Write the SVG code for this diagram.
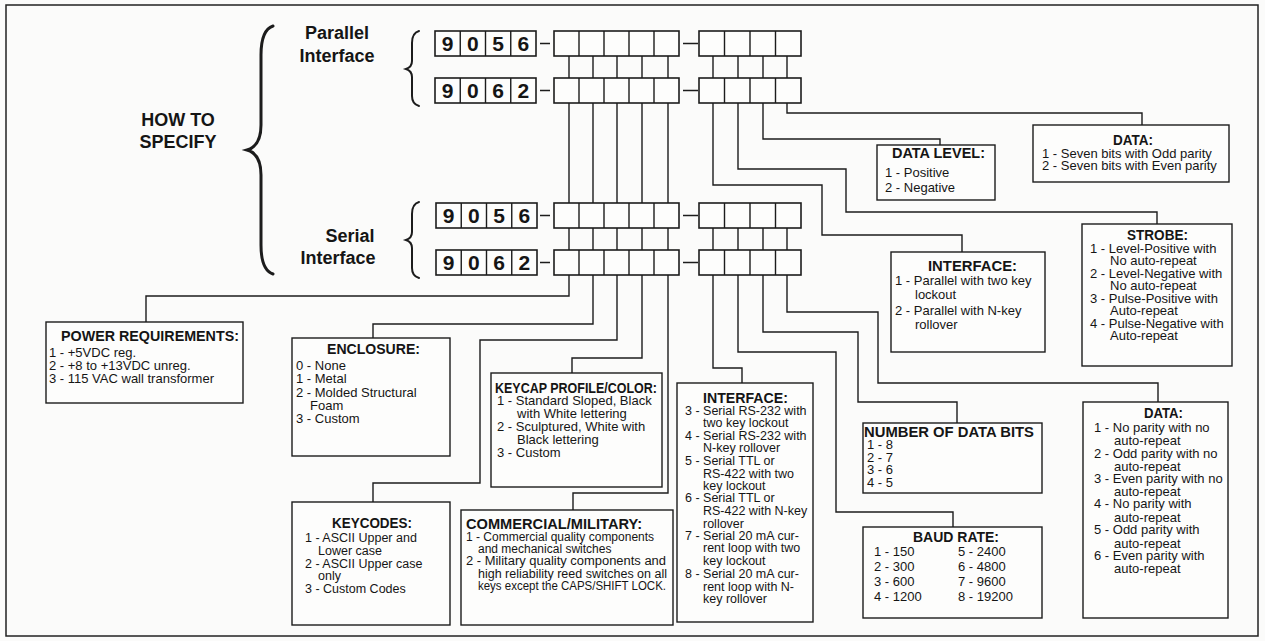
<svg xmlns="http://www.w3.org/2000/svg" width="1265" height="641" viewBox="0 0 1265 641">
<style>
.bg{fill:#fbfbfa}
.frame{fill:none;stroke:#222;stroke-width:1.5}
.box{fill:#fdfdfc;stroke:#1c1c1c;stroke-width:1.4}
.cell{fill:#fdfdfc;stroke:#1c1c1c;stroke-width:1.6}
.ln{fill:none;stroke:#1c1c1c;stroke-width:1.4}
.br{fill:none;stroke:#1c1c1c;stroke-linecap:round}
.big{font-family:"Liberation Sans",Arial,sans-serif;font-weight:bold;font-size:18px;fill:#151515}
.h{font-family:"Liberation Sans",Arial,sans-serif;font-weight:bold;font-size:15px;fill:#151515}
.t{font-family:"Liberation Sans",Arial,sans-serif;font-size:13px;fill:#151515}
.ts{font-family:"Liberation Sans",Arial,sans-serif;font-size:12.5px;fill:#151515}
.tx{font-family:"Liberation Sans",Arial,sans-serif;font-size:12px;fill:#151515}
.dg{font-family:"Liberation Sans",Arial,sans-serif;font-weight:bold;font-size:21px;fill:#151515;text-anchor:middle}
.mid{text-anchor:middle}
</style>
<defs>
<g id="digits">
<rect class="cell" x="0" y="0" width="101" height="25"/>
<path class="ln" d="M25.25 0V25M50.5 0V25M75.75 0V25"/>
</g>
<g id="g5">
<rect class="cell" x="0" y="0" width="125" height="25"/>
<path class="ln" d="M25 0V25M50 0V25M75 0V25M100 0V25"/>
</g>
<g id="g4">
<rect class="cell" x="0" y="0" width="102" height="25"/>
<path class="ln" d="M25.5 0V25M51 0V25M76.5 0V25"/>
</g>
</defs>
<rect class="bg" x="0" y="0" width="1265" height="641"/>
<rect class="frame" x="6" y="5" width="1252" height="631"/>

<g id="title">
<text class="big mid" x="178" y="126">HOW TO</text>
<text class="big mid" x="178" y="148">SPECIFY</text>
<path class="br" stroke-width="3" d="M273 26 Q261 30 261 55 L261 125 Q261 146 247 150 Q261 154 261 175 L261 245 Q261 270 273 274"/>
<text class="big mid" x="337" y="39">Parallel</text>
<text class="big mid" x="337" y="62">Interface</text>
<text class="big mid" x="350" y="242">Serial</text>
<text class="big mid" x="338" y="264">Interface</text>
<path class="br" stroke-width="2" d="M419 31 Q412 33 412 43 L412 61 Q412 67 406 69 Q412 71 412 77 L412 96 Q412 104 419 106"/>
<path class="br" stroke-width="2" d="M419 202 Q412 204 412 214 L412 232 Q412 238 406 240 Q412 242 412 248 L412 268 Q412 276 419 278"/>
</g>

<g id="connectors">
<path class="ln" d="M569 56V78M593 56V78M617 56V78M642 56V78M668 56V78M713 56V78M738 56V78M763 56V78M787 56V78"/>
<path class="ln" d="M569 103V203M593 103V203M617 103V203M642 103V203M668 103V203"/>
<path class="ln" d="M569 228V250M593 228V250M617 228V250M642 228V250M668 228V250M713 228V250M738 228V250M763 228V250M787 228V250"/>
<path class="ln" d="M540 43.5H550M683 43.5H698M540 90.5H550M683 90.5H698M540 215.5H550M683 215.5H698M540 262.5H550M683 262.5H698"/>
<path class="ln" d="M787 103V113H1142V125"/>
<path class="ln" d="M763 103V139H940V145"/>
<path class="ln" d="M738 103V169H846V212H1157V224"/>
<path class="ln" d="M713 103V185H822V235H962V252"/>
<path class="ln" d="M569 275V296H146V322"/>
<path class="ln" d="M593 275V324H373V338"/>
<path class="ln" d="M617 275V340H480V483H373V502"/>
<path class="ln" d="M642 275V358H572V373"/>
<path class="ln" d="M668 275V493H573V510"/>
<path class="ln" d="M713 275V368H742V383"/>
<path class="ln" d="M738 275V352H836V512H953V527"/>
<path class="ln" d="M763 275V332H858V402H957V423"/>
<path class="ln" d="M787 275V312H878V383H1158V402"/>
</g>

<g id="parallel-9056">
<use href="#digits" x="435" y="31"/>
<text class="dg" x="447.6" y="51">9</text><text class="dg" x="472.9" y="51">0</text><text class="dg" x="498.1" y="51">5</text><text class="dg" x="523.4" y="51">6</text>
<use href="#g5" x="554" y="31"/>
<use href="#g4" x="699" y="31"/>
</g>
<g id="parallel-9062">
<use href="#digits" x="435" y="78"/>
<text class="dg" x="447.6" y="98">9</text><text class="dg" x="472.9" y="98">0</text><text class="dg" x="498.1" y="98">6</text><text class="dg" x="523.4" y="98">2</text>
<use href="#g5" x="554" y="78"/>
<use href="#g4" x="699" y="78"/>
</g>
<g id="serial-9056">
<use href="#digits" x="436" y="203"/>
<text class="dg" x="448.6" y="223">9</text><text class="dg" x="473.9" y="223">0</text><text class="dg" x="499.1" y="223">5</text><text class="dg" x="524.4" y="223">6</text>
<use href="#g5" x="554" y="203"/>
<use href="#g4" x="699" y="203"/>
</g>
<g id="serial-9062">
<use href="#digits" x="436" y="250"/>
<text class="dg" x="448.6" y="270">9</text><text class="dg" x="473.9" y="270">0</text><text class="dg" x="499.1" y="270">6</text><text class="dg" x="524.4" y="270">2</text>
<use href="#g5" x="554" y="250"/>
<use href="#g4" x="699" y="250"/>
</g>

<g id="data-parity">
<rect class="box" x="1033" y="125" width="196" height="57"/>
<text class="h" x="1113" y="145" textLength="40" lengthAdjust="spacingAndGlyphs">DATA:</text>
<text class="t" x="1042" y="157.5">1 - Seven bits with Odd parity</text>
<text class="t" x="1042" y="169.5">2 - Seven bits with Even parity</text>
</g>

<g id="data-level">
<rect class="box" x="877" y="145" width="118" height="55"/>
<text class="h" x="892" y="157.5" textLength="93" lengthAdjust="spacingAndGlyphs">DATA LEVEL:</text>
<text class="t" x="885" y="177">1 - Positive</text>
<text class="t" x="885" y="192">2 - Negative</text>
</g>

<g id="strobe">
<rect class="box" x="1082" y="224" width="150" height="142"/>
<text class="h" x="1127" y="240" textLength="61" lengthAdjust="spacingAndGlyphs">STROBE:</text>
<text class="t" x="1090" y="252.5">1 - Level-Positive with</text>
<text class="t" x="1110" y="264.5">No auto-repeat</text>
<text class="t" x="1090" y="277.5">2 - Level-Negative with</text>
<text class="t" x="1110" y="289.5">No auto-repeat</text>
<text class="t" x="1090" y="302.5">3 - Pulse-Positive with</text>
<text class="t" x="1110" y="314.5">Auto-repeat</text>
<text class="t" x="1090" y="327.5">4 - Pulse-Negative with</text>
<text class="t" x="1110" y="339.5">Auto-repeat</text>
</g>

<g id="interface-parallel">
<rect class="box" x="891" y="252" width="154" height="100"/>
<text class="h" x="928" y="270.5" textLength="89" lengthAdjust="spacingAndGlyphs">INTERFACE:</text>
<text class="t" x="895" y="284.5">1 - Parallel with two key</text>
<text class="t" x="915" y="298.5">lockout</text>
<text class="t" x="895" y="314.5">2 - Parallel with N-key</text>
<text class="t" x="915" y="328.5">rollover</text>
</g>

<g id="power">
<rect class="box" x="46" y="322" width="197" height="81"/>
<text class="h" x="61" y="340.5" textLength="178" lengthAdjust="spacingAndGlyphs">POWER REQUIREMENTS:</text>
<text class="t" x="49" y="356.5">1 - +5VDC reg.</text>
<text class="t" x="49" y="369.5">2 - +8 to +13VDC unreg.</text>
<text class="t" x="49" y="382.5">3 - 115 VAC wall transformer</text>
</g>

<g id="enclosure">
<rect class="box" x="292" y="338" width="158" height="118"/>
<text class="h" x="327" y="353.5" textLength="93" lengthAdjust="spacingAndGlyphs">ENCLOSURE:</text>
<text class="t" x="296" y="369.5">0 - None</text>
<text class="t" x="296" y="382.5">1 - Metal</text>
<text class="t" x="296" y="396.5">2 - Molded Structural</text>
<text class="t" x="310" y="409.5">Foam</text>
<text class="t" x="296" y="422.5">3 - Custom</text>
</g>

<g id="keycap">
<rect class="box" x="491" y="373" width="171" height="114"/>
<text class="h" x="495" y="392.5" textLength="162" lengthAdjust="spacingAndGlyphs">KEYCAP PROFILE/COLOR:</text>
<text class="t" x="497" y="405">1 - Standard Sloped, Black</text>
<text class="t" x="517" y="418">with White lettering</text>
<text class="t" x="497" y="431">2 - Sculptured, White with</text>
<text class="t" x="517" y="443.5">Black lettering</text>
<text class="t" x="497" y="456.5">3 - Custom</text>
</g>

<g id="keycodes">
<rect class="box" x="292" y="502" width="158" height="123"/>
<text class="h" x="332" y="527.5" textLength="80" lengthAdjust="spacingAndGlyphs">KEYCODES:</text>
<text class="ts" x="305" y="541.5">1 - ASCII Upper and</text>
<text class="ts" x="318" y="554.5">Lower case</text>
<text class="ts" x="305" y="567.5">2 - ASCII Upper case</text>
<text class="ts" x="318" y="580">only</text>
<text class="ts" x="305" y="592.5">3 - Custom Codes</text>
</g>

<g id="commercial">
<rect class="box" x="461" y="510" width="212" height="115"/>
<text class="h" x="466" y="528.5" textLength="176" lengthAdjust="spacingAndGlyphs">COMMERCIAL/MILITARY:</text>
<text class="tx" x="466" y="541">1 - Commercial quality components</text>
<text class="tx" x="478" y="553">and mechanical switches</text>
<text class="tx" x="466" y="565" textLength="200" lengthAdjust="spacingAndGlyphs">2 - Military quality components and</text>
<text class="tx" x="478" y="577.5" textLength="189" lengthAdjust="spacingAndGlyphs">high reliability reed switches on all</text>
<text class="tx" x="478" y="590" textLength="188" lengthAdjust="spacingAndGlyphs">keys except the CAPS/SHIFT LOCK.</text>
</g>

<g id="interface-serial">
<rect class="box" x="677" y="383" width="136" height="239"/>
<text class="h" x="703" y="402.5" textLength="85" lengthAdjust="spacingAndGlyphs">INTERFACE:</text>
<text class="ts" x="685" y="414.5">3 - Serial RS-232 with</text>
<text class="ts" x="703" y="426.5">two key lockout</text>
<text class="ts" x="685" y="439.5">4 - Serial RS-232 with</text>
<text class="ts" x="703" y="451.5">N-key rollover</text>
<text class="ts" x="685" y="464.5">5 - Serial TTL or</text>
<text class="ts" x="703" y="477.5">RS-422 with two</text>
<text class="ts" x="703" y="489.5">key lockout</text>
<text class="ts" x="685" y="501.5">6 - Serial TTL or</text>
<text class="ts" x="703" y="514.5">RS-422 with N-key</text>
<text class="ts" x="703" y="527.5">rollover</text>
<text class="ts" x="685" y="539.5">7 - Serial 20 mA cur-</text>
<text class="ts" x="703" y="551.5">rent loop with two</text>
<text class="ts" x="703" y="564.5">key lockout</text>
<text class="ts" x="685" y="577.5">8 - Serial 20 mA cur-</text>
<text class="ts" x="703" y="590.5">rent loop with N-</text>
<text class="ts" x="703" y="602.5">key rollover</text>
</g>

<g id="data-bits">
<rect class="box" x="863" y="423" width="179" height="70"/>
<text class="h" x="864" y="436.5" textLength="170" lengthAdjust="spacingAndGlyphs" style="font-size:14px">NUMBER OF DATA BITS</text>
<text class="t" x="867" y="448.5">1 - 8</text>
<text class="t" x="867" y="461.5">2 - 7</text>
<text class="t" x="867" y="474">3 - 6</text>
<text class="t" x="867" y="486.5">4 - 5</text>
</g>

<g id="baud">
<rect class="box" x="863" y="527" width="179" height="91"/>
<text class="h" x="913" y="541.5" textLength="86" lengthAdjust="spacingAndGlyphs">BAUD RATE:</text>
<text class="t" x="874" y="555.5">1 - 150</text>
<text class="t" x="874" y="570.5">2 - 300</text>
<text class="t" x="874" y="585.5">3 - 600</text>
<text class="t" x="874" y="600.5">4 - 1200</text>
<text class="t" x="958" y="555.5">5 - 2400</text>
<text class="t" x="958" y="570.5">6 - 4800</text>
<text class="t" x="958" y="585.5">7 - 9600</text>
<text class="t" x="958" y="600.5">8 - 19200</text>
</g>

<g id="data-serial">
<rect class="box" x="1083" y="402" width="145" height="216"/>
<text class="h" x="1144" y="418" textLength="39" lengthAdjust="spacingAndGlyphs">DATA:</text>
<text class="t" x="1094" y="431.5">1 - No parity with no</text>
<text class="t" x="1114" y="444.5">auto-repeat</text>
<text class="t" x="1094" y="457.5">2 - Odd parity with no</text>
<text class="t" x="1114" y="470.5">auto-repeat</text>
<text class="t" x="1094" y="482.5">3 - Even parity with no</text>
<text class="t" x="1114" y="495.5">auto-repeat</text>
<text class="t" x="1094" y="507.5">4 - No parity with</text>
<text class="t" x="1114" y="521.5">auto-repeat</text>
<text class="t" x="1094" y="533.5">5 - Odd parity with</text>
<text class="t" x="1114" y="547.5">auto-repeat</text>
<text class="t" x="1094" y="559.5">6 - Even parity with</text>
<text class="t" x="1114" y="572.5">auto-repeat</text>
</g>
</svg>
